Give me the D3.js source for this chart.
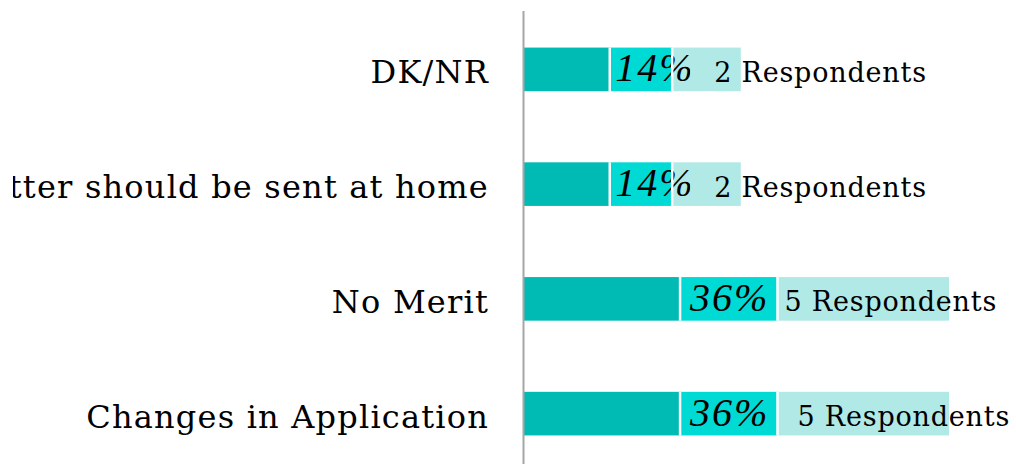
<!DOCTYPE html>
<html>
<head>
<meta charset="utf-8">
<script src="https://cdn.jsdelivr.net/npm/d3@7"></script>
<style>
  html, body { margin: 0; padding: 0; background: #fff; }
  svg { display: block; }
</style>
</head>
<body>
<div id="chart"></div>
<script>
// categories top to bottom
const categories = ['DK/NR', 'Letter should be sent at home', 'No Merit', 'Changes in Application'];
// three stacked series (same unit: one respondent)
const baseValues = [2.5, 2.5, 4.55, 4.55];
const pctValues = [1.82, 1.82, 2.84, 2.84];
const respondents = [2, 2, 5, 5];
const pctLabels = ['14%', '14%', '36%', '36%'];
const respLabels = ['2 Respondents', '2 Respondents', '5 Respondents', '5 Respondents'];

const W = 1016, H = 464;
const colors = ['#00bab4', '#00dad4', '#b0e9e5'];
// label nudges (px) from start of third segment, as placed in the original
const respDx = [42, 42, 7, 20];

const svg = d3.select('#chart').append('svg').attr('width', W).attr('height', H);

const x = d3.scaleLinear().domain([0, 14]).range([524, 524 + 14 * 34.3]);
const y = d3.scaleBand().domain(categories).range([12, 471]).paddingInner(0.62).paddingOuter(0.31);

const rows = categories.map((c, i) => {
  const v = [baseValues[i], pctValues[i], respondents[i]];
  let acc = 0;
  const segs = v.map((d, k) => { const s = { k, x0: acc, x1: acc + d }; acc += d; return s; });
  return { c, i, segs };
});

svg.append('defs').append('clipPath').attr('id', 'leftclip')
  .append('rect').attr('x', 13).attr('y', 0).attr('width', W).attr('height', H);

const g = svg.append('g');
rows.forEach(r => {
  const yy = y(r.c), bh = y.bandwidth();
  g.selectAll(null).data(r.segs).enter().append('rect')
    .attr('x', d => x(d.x0)).attr('y', yy)
    .attr('width', d => x(d.x1) - x(d.x0)).attr('height', bh)
    .attr('fill', d => colors[d.k]);
});

// percentage labels in the middle segment, clipped a bit into the third
rows.forEach(r => {
  const s1 = r.segs[1], s2 = r.segs[2];
  const cid = 'pc' + r.i;
  svg.select('defs').append('clipPath').attr('id', cid).append('rect')
    .attr('x', x(s1.x0)).attr('y', y(r.c) - 10)
    .attr('width', x(s2.x0) - x(s1.x0) + 18).attr('height', y.bandwidth() + 20);
  g.append('text')
    .attr('clip-path', `url(#${cid})`)
    .attr('x', (x(s1.x0) + x(s1.x1)) / 2 + (r.i < 2 ? 14 : 1))
    .attr('y', y(r.c) + y.bandwidth() / 2 + 12)
    .attr('text-anchor', 'middle')
    .style('font-family', '"Liberation Serif", serif').style('font-style', 'italic')
    .style('font-size', '40px').style('letter-spacing', '2px')
    .attr('fill', '#000').text(pctLabels[r.i]);
});

// white separators between segments
rows.forEach(r => {
  r.segs.slice(1).forEach(s => {
    g.append('line').attr('x1', x(s.x0)).attr('x2', x(s.x0))
      .attr('y1', y(r.c)).attr('y2', y(r.c) + y.bandwidth())
      .attr('stroke', '#fff').attr('stroke-width', 2.5);
  });
});

// respondent labels
rows.forEach(r => {
  g.append('text')
    .attr('x', x(r.segs[2].x0) + respDx[r.i])
    .attr('y', y(r.c) + y.bandwidth() / 2 + 12.5)
    .style('font-family', '"DejaVu Serif", serif').style('font-size', '27px').style('letter-spacing', '0.8px')
    .attr('fill', '#000').text(respLabels[r.i]);
});

// category labels
svg.append('g').attr('clip-path', 'url(#leftclip)')
  .selectAll('text').data(categories).enter().append('text')
  .attr('x', 489).attr('y', d => y(d) + y.bandwidth() / 2 + 14)
  .attr('text-anchor', 'end')
  .style('font-family', '"DejaVu Serif", serif').style('font-size', '32px').style('letter-spacing', '1.2px')
  .attr('fill', '#000').text(d => d);

// vertical axis line
svg.append('line').attr('x1', 523.5).attr('x2', 523.5).attr('y1', 11).attr('y2', H)
  .attr('stroke', '#a6a6a6').attr('stroke-width', 2);
</script>
</body>
</html>
